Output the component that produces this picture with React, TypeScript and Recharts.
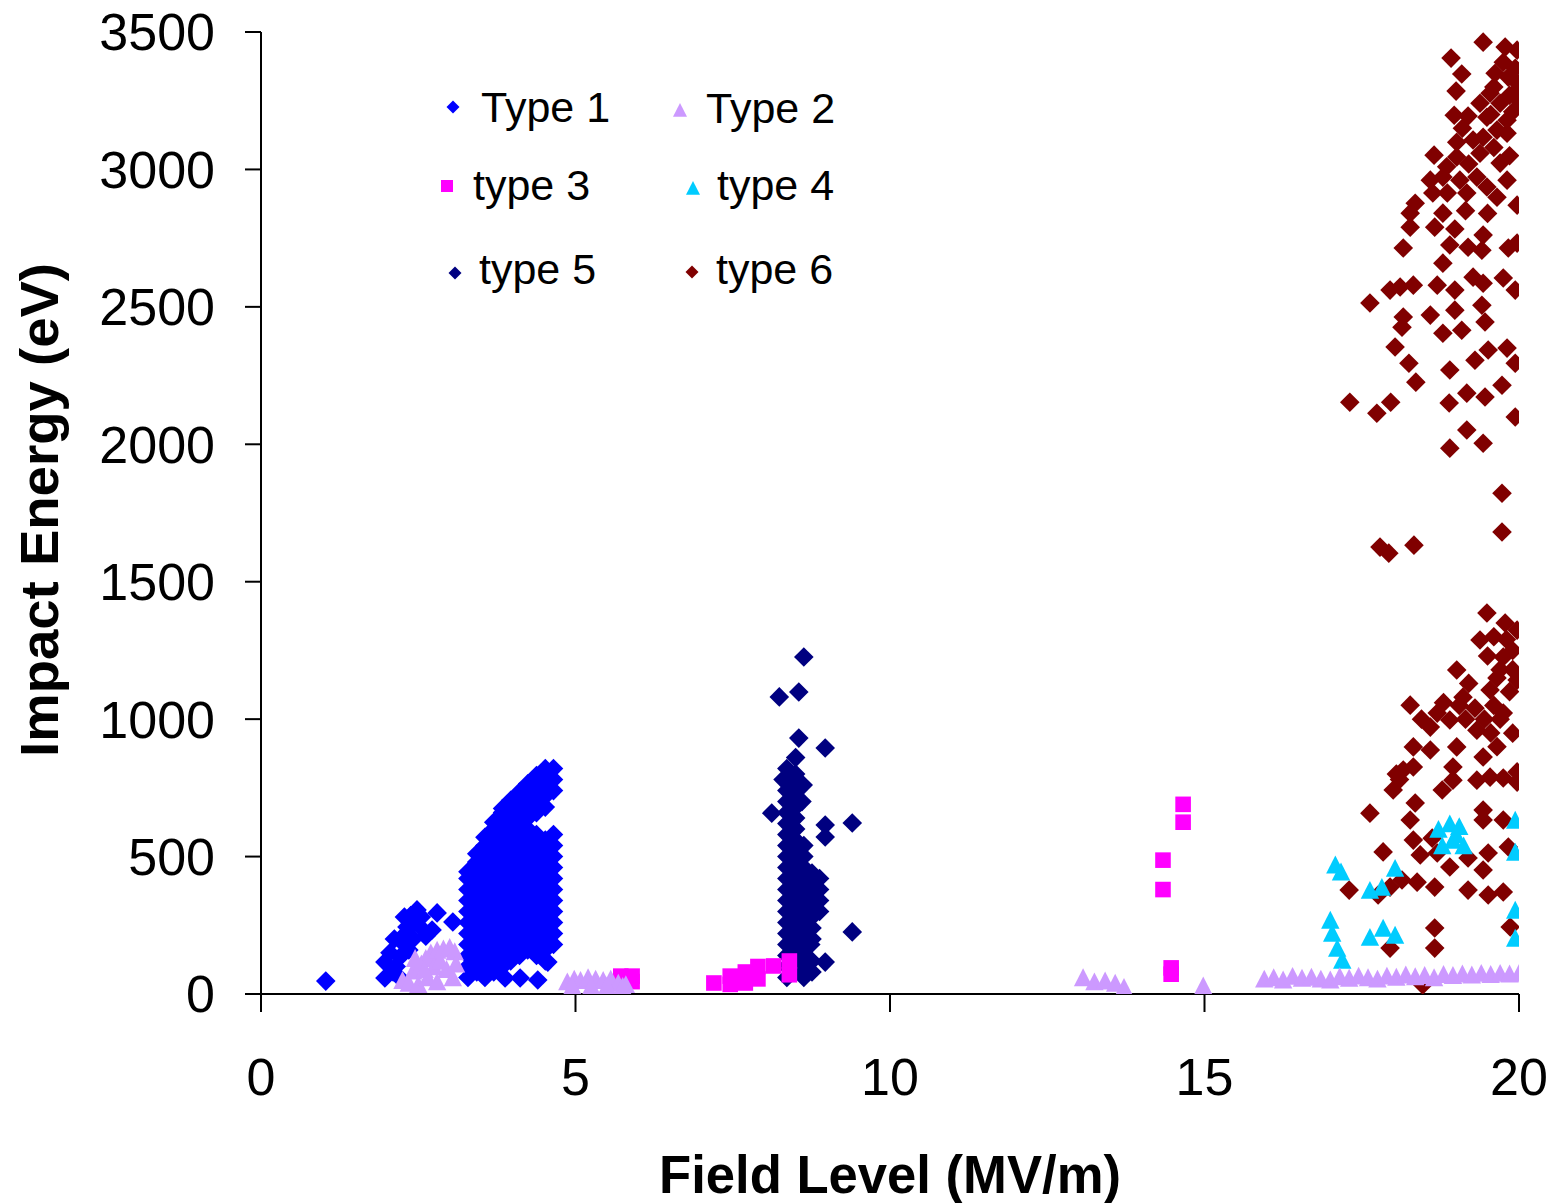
import { ScatterChart, Scatter, XAxis, YAxis } from "recharts";

type Pt = [number, number];
type Kind = "diamond" | "triangle" | "square";

const W = 1551;
const H = 1203;
const FONT = "'Liberation Sans', Arial, sans-serif";

const X_TICKS = [0, 5, 10, 15, 20];
const Y_TICKS = [0, 500, 1000, 1500, 2000, 2500, 3000, 3500];

// Type 1: loose points plus the dense blob read column by column
const type1Loose: Pt[] = [
  [1.03, 47], [1.97, 116], [1.97, 58], [2.21, 58], [2.21, 135], [2.21, 196], [2.12, 200], [2.15, 100],
  [2.32, 244], [2.48, 306], [2.53, 244], [2.42, 200], [2.3, 180], [2.72, 233], [2.8, 295], [3.05, 262],
  [2.28, 280], [2.4, 250], [2.55, 280], [2.62, 210], [3.88, 58], [4.12, 58], [4.4, 51], [4.56, 116], [4.55, 178],
  [2.05, 150], [2.1, 80], [2.3, 220], [2.38, 285], [2.45, 265], [2.35, 160],
];
const type1Columns: [number, number[]][] = [
  [3.29, [60, 100, 140, 180, 220, 260, 300, 340, 380, 420, 445]],
  [3.43, [80, 120, 160, 200, 240, 280, 320, 360, 400, 440, 480, 510]],
  [3.56, [60, 100, 140, 180, 220, 260, 300, 340, 380, 420, 460, 500, 540, 570]],
  [3.7, [80, 120, 160, 200, 240, 280, 320, 360, 400, 440, 480, 520, 560, 600, 625]],
  [3.84, [100, 140, 180, 220, 260, 300, 340, 380, 420, 460, 500, 540, 580, 620, 660, 675]],
  [3.97, [120, 160, 200, 240, 280, 320, 360, 400, 440, 480, 520, 560, 600, 640, 680, 705]],
  [4.11, [140, 180, 220, 260, 300, 340, 380, 420, 460, 500, 540, 580, 620, 660, 700, 735]],
  [4.24, [160, 200, 240, 280, 320, 360, 400, 440, 480, 520, 560, 600, 640, 680, 720, 765]],
  [4.38, [140, 180, 220, 260, 300, 340, 380, 420, 460, 500, 540, 580, 660, 700, 740, 780, 795]],
  [4.52, [120, 160, 200, 240, 280, 320, 360, 400, 440, 480, 520, 560, 680, 720, 760, 800, 820]],
  [4.65, [180, 220, 260, 300, 340, 380, 420, 460, 500, 540, 580, 740, 780, 820]],
];

const type2: Pt[] = [
  [2.25, 50], [2.35, 40], [2.42, 85], [2.5, 35], [2.55, 110], [2.62, 130], [2.65, 60], [2.7, 150],
  [2.75, 100], [2.8, 160], [2.8, 45], [2.85, 120], [2.9, 165], [2.95, 90], [3.0, 170], [3.05, 60],
  [3.08, 155], [3.1, 110], [2.45, 130], [2.6, 90],
  [4.87, 45], [4.98, 55], [5.08, 50], [5.2, 60], [5.32, 55], [5.44, 50], [5.56, 55], [5.68, 40],
  [5.8, 35], [4.95, 30], [5.25, 30], [5.5, 30], [5.75, 28],
  [13.07, 60], [13.25, 45], [13.42, 48], [13.58, 40], [13.72, 25], [14.98, 30],
  [15.95, 55], [16.1, 60], [16.25, 52], [16.4, 65], [16.55, 58], [16.7, 62], [16.85, 55], [17.0, 52],
  [17.15, 64], [17.3, 58], [17.45, 66], [17.6, 60], [17.75, 55], [17.9, 66], [18.05, 62], [18.2, 70],
  [18.35, 64], [18.5, 68], [18.65, 60], [18.8, 72], [18.95, 68], [19.1, 74], [19.25, 70], [19.4, 76],
  [19.55, 72], [19.7, 76], [19.85, 74], [20.0, 76],
];

const type3: Pt[] = [
  [5.72, 65], [5.9, 65], [5.9, 45], [7.2, 40], [7.46, 65], [7.46, 35], [7.7, 80], [7.7, 40],
  [7.9, 100], [7.9, 55], [8.15, 102], [8.4, 120], [8.4, 70],
  [14.34, 487], [14.34, 380], [14.47, 95], [14.47, 72], [14.66, 690], [14.66, 625],
];

const type4: Pt[] = [
  [17.08, 470], [17.17, 445], [19.94, 633], [18.72, 600], [18.9, 620], [19.05, 610], [18.78, 540],
  [18.95, 560], [19.12, 540], [19.0, 580], [19.94, 517], [18.03, 458], [17.63, 378], [17.82, 389],
  [17.0, 269], [17.03, 222], [17.11, 167], [17.19, 124], [17.63, 207], [17.84, 240], [18.03, 215],
  [19.94, 306], [19.94, 204],
];

const type5Loose: Pt[] = [
  [8.63, 1226], [8.24, 1081], [8.55, 1099], [8.55, 931], [8.97, 895], [8.12, 658], [8.97, 615],
  [8.97, 571], [9.4, 622], [9.4, 226], [8.97, 116], [8.76, 240], [8.74, 180], [8.3, 780],
  [8.62, 760], [8.6, 700],
];
const type5Columns: [number, number[]][] = [
  [8.36, [60, 100, 140, 180, 220, 260, 300, 340, 380, 420, 460, 500, 540, 580, 620, 660, 700, 740, 780, 820]],
  [8.5, [80, 120, 160, 200, 240, 280, 320, 360, 400, 440, 480, 520, 560, 600, 640, 680, 720, 760, 800, 860]],
  [8.63, [60, 100, 140, 180, 220, 260, 300, 340, 380, 420, 460, 500, 540]],
  [8.76, [80, 120, 200, 280, 320, 360, 400, 440]],
  [8.88, [300, 340, 380, 420]],
];

const type6: Pt[] = [
  [19.43, 3463], [19.78, 3445], [19.97, 3434], [18.92, 3405], [19.75, 3390], [19.94, 3368], [19.09, 3347],
  [19.62, 3350], [19.83, 3336], [19.0, 3285], [19.54, 3277], [19.97, 3288], [19.38, 3241], [19.7, 3241],
  [20.0, 3252], [18.97, 3197], [19.19, 3194], [19.49, 3190], [19.81, 3179], [19.65, 3143], [19.81, 3132],
  [19.01, 3099], [19.27, 3107], [19.43, 3117], [18.65, 3052], [19.01, 3045], [19.38, 3059], [19.7, 3023],
  [18.59, 2961], [18.79, 2972], [19.06, 2961], [19.33, 2972], [19.49, 2936], [19.81, 2961], [18.63, 2914],
  [18.86, 2914], [19.17, 2914], [19.65, 2899], [19.97, 2870], [18.35, 2877], [18.27, 2841], [18.79, 2841],
  [18.27, 2790], [18.66, 2790], [18.98, 2783], [19.43, 2761], [18.16, 2714], [18.9, 2725], [19.19, 2717],
  [19.41, 2706], [19.83, 2714], [19.97, 2732], [18.79, 2659], [19.27, 2608], [19.75, 2605], [17.95, 2561],
  [18.11, 2572], [18.32, 2579], [18.7, 2579], [18.98, 2561], [19.43, 2586], [19.94, 2561], [17.63, 2514],
  [19.6, 3300], [19.85, 3270], [19.55, 3200], [19.9, 3210], [19.6, 3080], [19.2, 3020], [19.15, 2850],
  [19.5, 2840], [19.85, 3050], [19.1, 3150], [18.85, 3010], [19.95, 3320],
  [18.16, 2463], [18.14, 2426], [18.59, 2470], [18.98, 2488], [19.41, 2506], [19.46, 2445], [18.79, 2404],
  [19.09, 2415], [18.03, 2354], [18.25, 2295], [18.9, 2270], [19.3, 2306], [19.51, 2343], [19.81, 2350],
  [19.94, 2295], [18.36, 2226], [17.31, 2153], [17.74, 2113], [17.96, 2153], [18.89, 2150], [19.17, 2186],
  [19.46, 2172], [19.73, 2215], [19.94, 2099], [19.17, 2052], [19.43, 2004], [18.9, 1986], [19.73, 1822],
  [19.73, 1681], [17.79, 1626], [17.93, 1604], [18.33, 1633],
  [19.49, 1386], [19.78, 1350], [19.97, 1324], [19.38, 1288], [19.01, 1179], [19.75, 1226], [19.97, 1142],
  [18.27, 1051], [18.7, 1022], [19.11, 1080], [19.54, 1106], [18.59, 971], [18.9, 997], [19.33, 960],
  [19.75, 1022], [19.9, 949], [18.32, 899], [18.59, 888], [19.01, 899], [19.43, 862], [18.16, 815],
  [18.32, 826], [18.0, 742], [18.95, 826], [18.95, 778], [19.33, 778], [19.54, 789], [19.75, 786],
  [19.97, 808], [19.97, 771], [18.78, 742], [18.35, 695], [17.63, 658], [18.27, 633], [19.43, 669],
  [19.43, 633], [19.75, 633], [18.32, 560], [18.62, 567], [17.84, 517], [18.43, 506], [18.7, 513],
  [19.19, 495], [19.51, 513], [19.83, 535], [18.9, 462], [19.43, 451], [18.14, 415], [18.38, 407],
  [17.3, 378], [18.66, 389], [19.19, 378], [19.51, 360], [19.75, 371], [17.76, 360], [17.95, 389],
  [18.66, 240], [19.86, 244], [17.95, 167], [18.66, 167], [18.47, 33],
  [19.6, 1300], [19.9, 1250], [19.7, 1180], [19.85, 1100], [19.6, 1050], [19.2, 1130], [19.3, 1040],
  [19.55, 950], [19.05, 1050], [18.8, 1060], [19.65, 900], [19.9, 1180], [19.8, 1290], [19.5, 1230],
  [19.65, 1150], [19.45, 1000], [19.7, 1000], [19.15, 1000], [18.45, 1000], [18.1, 780], [18.05, 800],
];

const rows = (pts: Pt[]) => pts.map(([x, y]) => ({ x, y }));
const colRows = (cols: [number, number[]][]) => cols.flatMap(([x, ys]) => ys.map((y) => ({ x, y })));

const SERIES = [
  { name: "Type 1", color: "#0000FF", kind: "diamond" as Kind, data: [...rows(type1Loose), ...colRows(type1Columns)] },
  { name: "Type 2", color: "#CC99FF", kind: "triangle" as Kind, data: rows(type2) },
  { name: "type 3", color: "#FF00FF", kind: "square" as Kind, data: rows(type3) },
  { name: "type 4", color: "#00CCFF", kind: "triangle" as Kind, data: rows(type4) },
  { name: "type 5", color: "#000080", kind: "diamond" as Kind, data: [...rows(type5Loose), ...colRows(type5Columns)] },
  { name: "type 6", color: "#800000", kind: "diamond" as Kind, data: rows(type6) },
];

// painting order seen in the picture (bottom to top)
const DRAW_ORDER = [5, 4, 2, 3, 0, 1];

// legend layout: marker centre and text start/baseline
const LEGEND_POS = [
  { mx: 453, my: 107, tx: 481, ty: 122 },
  { mx: 680, my: 110, tx: 706, ty: 123 },
  { mx: 447, my: 186, tx: 473, ty: 200 },
  { mx: 693, my: 188, tx: 717, ty: 200 },
  { mx: 455, my: 273, tx: 479, ty: 284 },
  { mx: 692, my: 272, tx: 716, ty: 284 },
];

function markerPath(kind: Kind, cx: number, cy: number, r: number) {
  if (kind === "diamond") return `M${cx},${cy - r}L${cx + r},${cy}L${cx},${cy + r}L${cx - r},${cy}Z`;
  if (kind === "triangle") return `M${cx},${cy - r}L${cx + r},${cy + r * 0.95}L${cx - r},${cy + r * 0.95}Z`;
  return `M${cx - r},${cy - r}h${2 * r}v${2 * r}h${-2 * r}Z`;
}

function markerShape(kind: Kind, color: string) {
  const r = kind === "square" ? 7.8 : kind === "triangle" ? 9.2 : 9.8;
  return (props: any) => {
    const { cx, cy } = props;
    if (cx == null || cy == null) return <g />;
    return <path d={markerPath(kind, cx, cy, r)} fill={color} />;
  };
}

export default function App() {
  const tickStyle = { fill: "#000", fontSize: 52, fontFamily: FONT };
  return (
    <div style={{ position: "absolute", left: 0, top: 0, width: W, height: H, background: "#fff" }}>
      <ScatterChart width={W} height={H} margin={{ top: 32, right: 32, bottom: 0, left: 0 }}>
        <XAxis
          type="number"
          dataKey="x"
          domain={[0, 20]}
          ticks={X_TICKS}
          allowDataOverflow
          height={209}
          tickSize={18}
          tickMargin={46}
          axisLine={{ stroke: "#000", strokeWidth: 2 }}
          tickLine={{ stroke: "#000", strokeWidth: 2 }}
          tick={tickStyle}
        />
        <YAxis
          type="number"
          dataKey="y"
          domain={[0, 3500]}
          ticks={Y_TICKS}
          allowDataOverflow
          width={261}
          tickSize={16}
          tickMargin={30}
          axisLine={{ stroke: "#000", strokeWidth: 2 }}
          tickLine={{ stroke: "#000", strokeWidth: 2 }}
          tick={tickStyle}
        />
        {DRAW_ORDER.map((i) => {
          const s = SERIES[i];
          return (
            <Scatter
              key={s.name}
              name={s.name}
              data={s.data}
              fill={s.color}
              shape={markerShape(s.kind, s.color)}
              isAnimationActive={false}
            />
          );
        })}
      </ScatterChart>
      <svg
        width={W}
        height={H}
        style={{ position: "absolute", left: 0, top: 0, pointerEvents: "none" }}
        fontFamily={FONT}
      >
        <text
          x={58}
          y={510}
          transform="rotate(-90 58 510)"
          textAnchor="middle"
          fontWeight="bold"
          fontSize={54}
          textLength={494}
          lengthAdjust="spacingAndGlyphs"
        >
          Impact Energy (eV)
        </text>
        <text
          x={890}
          y={1193}
          textAnchor="middle"
          fontWeight="bold"
          fontSize={54}
          textLength={462}
          lengthAdjust="spacingAndGlyphs"
        >
          Field Level (MV/m)
        </text>
        {SERIES.map((s, i) => {
          const p = LEGEND_POS[i];
          const r = s.kind === "square" ? 6 : s.kind === "triangle" ? 7 : 6.5;
          return (
            <g key={s.name}>
              <path d={markerPath(s.kind, p.mx, p.my, r)} fill={s.color} />
              <text x={p.tx} y={p.ty} fontSize={43} fill="#000">
                {s.name}
              </text>
            </g>
          );
        })}
      </svg>
    </div>
  );
}
